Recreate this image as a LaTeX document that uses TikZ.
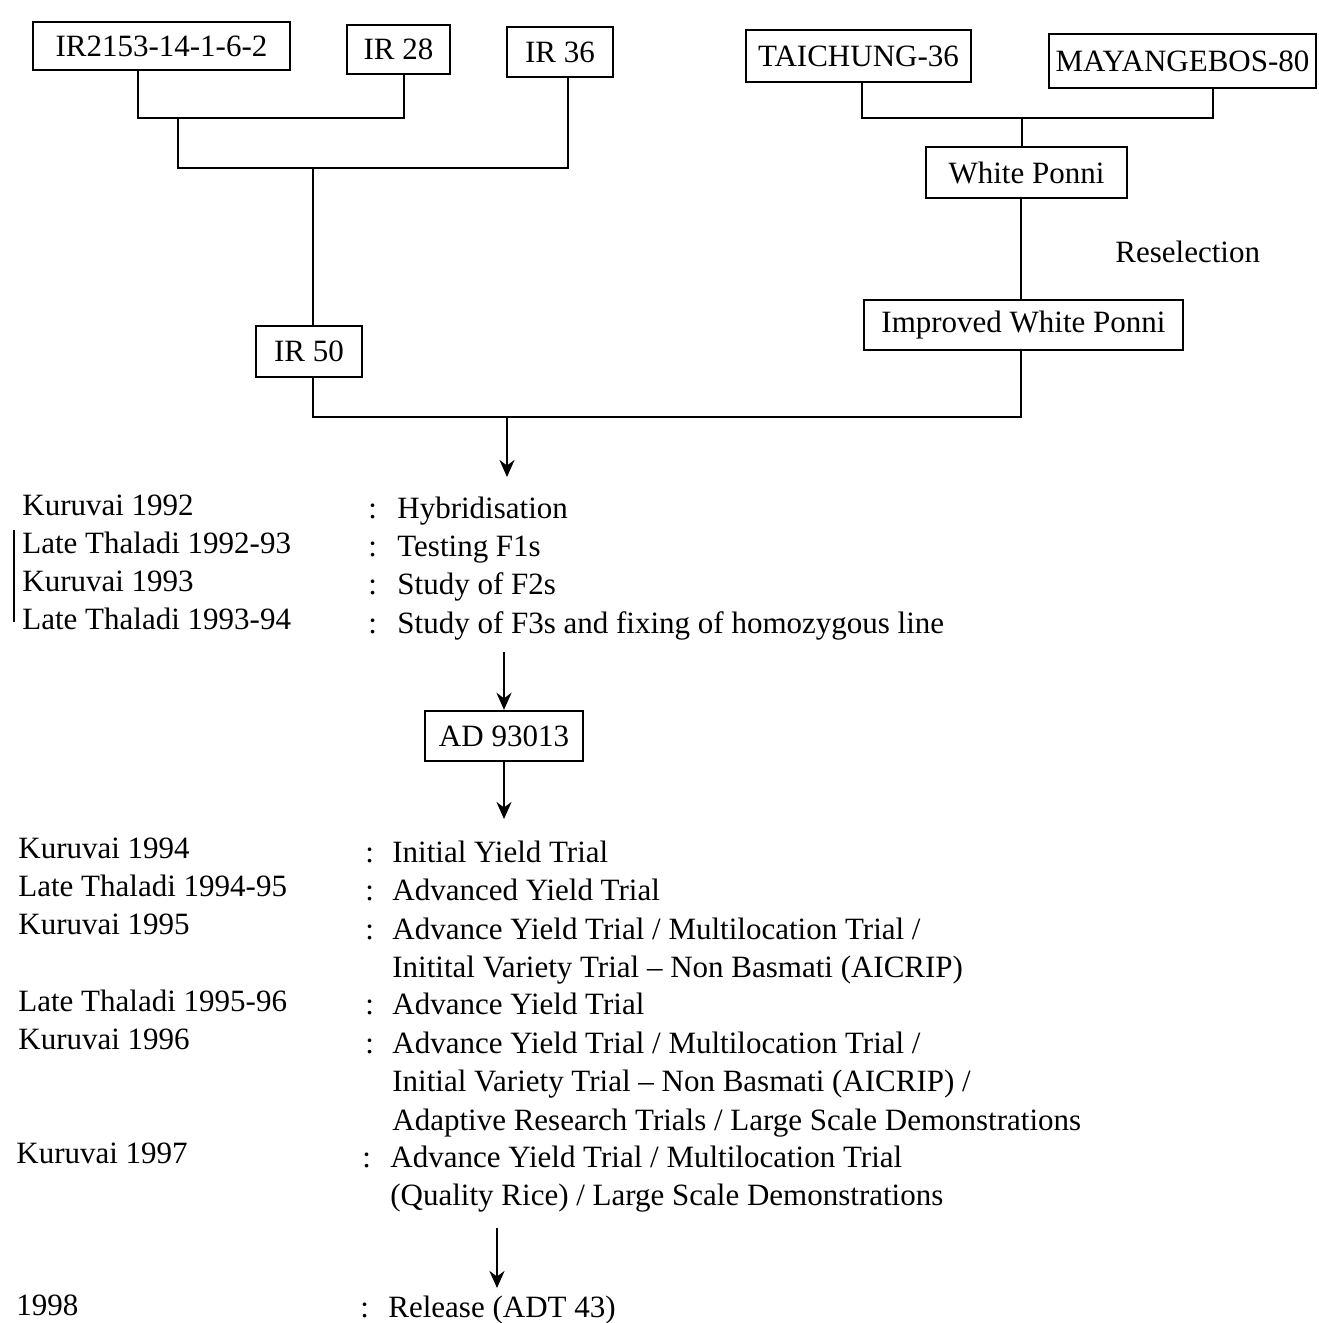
\documentclass[tikz,border=0pt]{standalone}
\usepackage{fontspec}
\setmainfont{Liberation Serif}
\usetikzlibrary{arrows.meta}
\begin{document}
\begin{tikzpicture}[x=0.5pt,y=-0.5pt,
  font=\fontsize{15.5}{18}\selectfont,
  box/.style={draw, line width=1.2pt, inner sep=0pt, align=center},
  link/.style={line width=1.2pt},
  arr/.style={line width=1.2pt, -{Stealth[length=8.5pt,width=7.5pt]}},
  lbl/.style={anchor=base west, inner sep=0pt}]
\useasboundingbox (0,0) rectangle (1318,1323);

% boxes
\node[box, minimum width=128.5pt, minimum height=24pt] (a) at (161.5,46) {IR2153-14-1-6-2};
\node[box, minimum width=51.5pt, minimum height=24.5pt] (b) at (398.5,49.5) {IR 28};
\node[box, minimum width=53pt, minimum height=25pt] (c) at (560,52) {IR 36};
\node[box, minimum width=112.5pt, minimum height=26pt] (d) at (858.5,56) {TAICHUNG-36};
\node[box, minimum width=133.5pt, minimum height=27pt] (e) at (1182.5,61) {MAYANGEBOS-80};
\node[box, minimum width=100.5pt, minimum height=25.5pt] (wp) at (1026.5,172.5) {White Ponni};
\node[box, minimum width=159.5pt, minimum height=25pt] (iwp) at (1023.5,325) {Improved White Ponni};
\node[box, minimum width=53pt, minimum height=25.5pt] (ir50) at (309,351.5) {IR 50};
\node[box, minimum width=79pt, minimum height=25pt] (ad) at (504,736) {AD 93013};
\node[lbl] (resel) at (1115,262) {Reselection};

% connector coordinates
\coordinate (j1) at (138,118);
\coordinate (j2) at (404,118);
\coordinate (m1) at (178,118);
\coordinate (k1) at (178,168);
\coordinate (k2) at (568,168);
\coordinate (m2) at (313,168);
\coordinate (t1) at (862,118);
\coordinate (t2) at (1213,118);
\coordinate (t3) at (1022,118);
\coordinate (u) at (1021,250);
\coordinate (b1) at (313,417);
\coordinate (b2) at (1021,417);
\coordinate (a0) at (507,417);
\coordinate (a1) at (507,477);
\coordinate (s1) at (504,652);
\coordinate (s2) at (504,819);
\coordinate (s3) at (497,1228);
\coordinate (s4) at (497,1288);

\draw[link] (a.south -| j1) -- (j1) -- (j2) -- (b.south -| j2);
\draw[link] (m1) -- (k1) -- (k2) -- (c.south -| k2);
\draw[link] (m2) -- (ir50.north -| m2);
\draw[link] (d.south -| t1) -- (t1) -- (t2) -- (e.south -| t2);
\draw[link] (t3) -- (wp.north -| t3);
\draw[link] (wp.south -| u) -- (iwp.north -| u);
\draw[link] (ir50.south -| b1) -- (b1) -- (b2) -- (iwp.south -| b2);
\draw[arr] (a0) -- (a1);
\draw[arr] (s1) -- (ad.north);
\draw[arr] (ad.south) -- (s2);
\draw[arr] (s3) -- (s4);

% left bracket line
\coordinate (v1) at (14,530);
\coordinate (v2) at (14,622);
\draw[line width=0.9pt] (v1) -- (v2);

% block 1
\node[lbl] (l1) at (22,515) {Kuruvai 1992};
\node[lbl] (l2) at (22,553) {Late Thaladi 1992-93};
\node[lbl] (l3) at (22,591) {Kuruvai 1993};
\node[lbl] (l4) at (22,629) {Late Thaladi 1993-94};
\node[lbl] (c1) at (368,518) {:};
\node[lbl] (c2) at (368,556) {:};
\node[lbl] (c3) at (368,594) {:};
\node[lbl] (c4) at (368,633) {:};
\node[lbl] (r1) at (397,518) {Hybridisation};
\node[lbl] (r2) at (397,556) {Testing F1s};
\node[lbl] (r3) at (397,594) {Study of F2s};
\node[lbl] (r4) at (397,633) {Study of F3s and fixing of homozygous line};

% block 2
\node[lbl] (l5) at (18,858) {Kuruvai 1994};
\node[lbl] (l6) at (18,896) {Late Thaladi 1994-95};
\node[lbl] (l7) at (18,934) {Kuruvai 1995};
\node[lbl] (l8) at (18,1011) {Late Thaladi 1995-96};
\node[lbl] (l9) at (18,1049) {Kuruvai 1996};
\node[lbl] (l10) at (16,1163) {Kuruvai 1997};
\node[lbl] (l11) at (16,1315) {1998};
\node[lbl] (c5) at (365,862) {:};
\node[lbl] (c6) at (365,900) {:};
\node[lbl] (c7) at (365,939) {:};
\node[lbl] (c8) at (365,1014) {:};
\node[lbl] (c9) at (365,1053) {:};
\node[lbl] (c10) at (362,1167) {:};
\node[lbl] (c11) at (360,1317) {:};
\node[lbl] (r5) at (392,862) {Initial Yield Trial};
\node[lbl] (r6) at (392,900) {Advanced Yield Trial};
\node[lbl] (r7) at (392,939) {Advance Yield Trial / Multilocation Trial /};
\node[lbl] (r7b) at (392,977) {Initital Variety Trial -- Non Basmati (AICRIP)};
\node[lbl] (r8) at (392,1014) {Advance Yield Trial};
\node[lbl] (r9) at (392,1053) {Advance Yield Trial / Multilocation Trial /};
\node[lbl] (r9b) at (392,1091) {Initial Variety Trial -- Non Basmati (AICRIP) /};
\node[lbl] (r9c) at (392,1130) {Adaptive Research Trials / Large Scale Demonstrations};
\node[lbl] (r10) at (390,1167) {Advance Yield Trial / Multilocation Trial};
\node[lbl] (r10b) at (390,1205) {(Quality Rice) / Large Scale Demonstrations};
\node[lbl] (r11) at (388,1317) {Release (ADT 43)};
\end{tikzpicture}
\end{document}
